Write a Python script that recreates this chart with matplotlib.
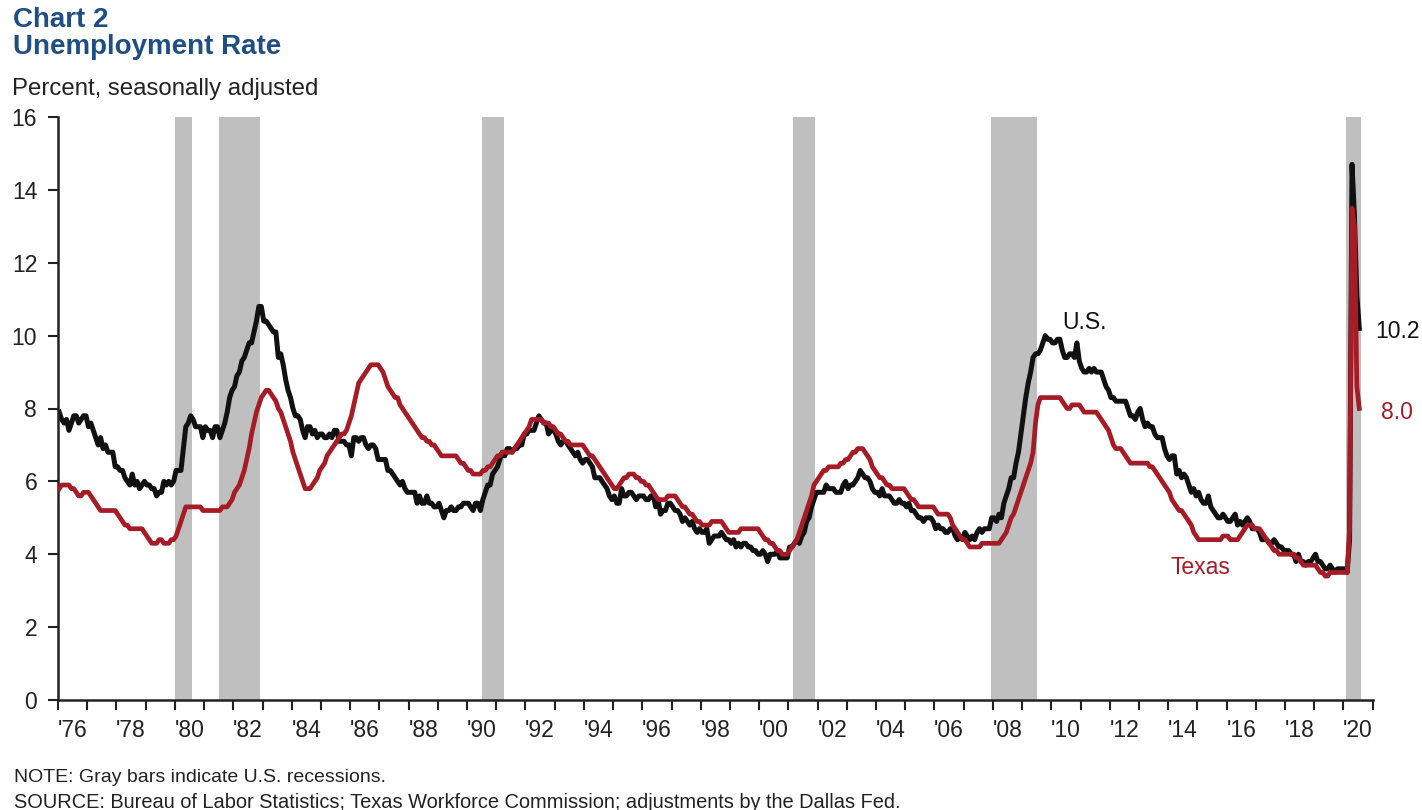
import numpy as np
import matplotlib
matplotlib.use('Agg')
from matplotlib import pyplot as plt

plt.rcParams['font.family'] = ['Liberation Sans', 'DejaVu Sans']

# monthly unemployment rate, one row per year (Jan..Dec), 2020 through July
years = list(range(1976, 2021))

us = [
    [7.9, 7.7, 7.6, 7.7, 7.4, 7.6, 7.8, 7.8, 7.6, 7.7, 7.8, 7.8],
    [7.5, 7.6, 7.4, 7.2, 7.0, 7.2, 6.9, 7.0, 6.8, 6.8, 6.8, 6.4],
    [6.4, 6.3, 6.3, 6.1, 6.0, 5.9, 6.2, 5.9, 6.0, 5.8, 5.9, 6.0],
    [5.9, 5.9, 5.8, 5.8, 5.6, 5.7, 5.7, 6.0, 5.9, 6.0, 5.9, 6.0],
    [6.3, 6.3, 6.3, 6.9, 7.5, 7.6, 7.8, 7.7, 7.5, 7.5, 7.5, 7.2],
    [7.5, 7.4, 7.4, 7.2, 7.5, 7.5, 7.2, 7.4, 7.6, 7.9, 8.3, 8.5],
    [8.6, 8.9, 9.0, 9.3, 9.4, 9.6, 9.8, 9.8, 10.1, 10.4, 10.8, 10.8],
    [10.4, 10.4, 10.3, 10.2, 10.1, 10.1, 9.4, 9.5, 9.2, 8.8, 8.5, 8.3],
    [8.0, 7.8, 7.8, 7.7, 7.4, 7.2, 7.5, 7.5, 7.3, 7.4, 7.2, 7.3],
    [7.3, 7.2, 7.2, 7.3, 7.2, 7.4, 7.4, 7.1, 7.1, 7.1, 7.0, 7.0],
    [6.7, 7.2, 7.2, 7.1, 7.2, 7.2, 7.0, 6.9, 7.0, 7.0, 6.9, 6.6],
    [6.6, 6.6, 6.6, 6.3, 6.3, 6.2, 6.1, 6.0, 5.9, 6.0, 5.8, 5.7],
    [5.7, 5.7, 5.7, 5.4, 5.6, 5.4, 5.4, 5.6, 5.4, 5.4, 5.3, 5.3],
    [5.4, 5.2, 5.0, 5.2, 5.2, 5.3, 5.2, 5.2, 5.3, 5.3, 5.4, 5.4],
    [5.4, 5.3, 5.2, 5.4, 5.4, 5.2, 5.5, 5.7, 5.9, 5.9, 6.2, 6.3],
    [6.4, 6.6, 6.8, 6.7, 6.9, 6.9, 6.8, 6.9, 6.9, 7.0, 7.0, 7.3],
    [7.3, 7.4, 7.4, 7.4, 7.6, 7.8, 7.7, 7.6, 7.6, 7.3, 7.4, 7.4],
    [7.3, 7.1, 7.0, 7.1, 7.1, 7.0, 6.9, 6.8, 6.7, 6.8, 6.6, 6.5],
    [6.6, 6.6, 6.5, 6.4, 6.1, 6.1, 6.1, 6.0, 5.9, 5.8, 5.6, 5.5],
    [5.6, 5.4, 5.4, 5.8, 5.6, 5.6, 5.7, 5.7, 5.6, 5.5, 5.6, 5.6],
    [5.6, 5.5, 5.5, 5.6, 5.6, 5.3, 5.5, 5.1, 5.2, 5.2, 5.4, 5.4],
    [5.3, 5.2, 5.2, 5.1, 4.9, 5.0, 4.9, 4.8, 4.9, 4.7, 4.6, 4.7],
    [4.6, 4.6, 4.7, 4.3, 4.4, 4.5, 4.5, 4.5, 4.6, 4.5, 4.4, 4.4],
    [4.3, 4.4, 4.2, 4.3, 4.2, 4.3, 4.3, 4.2, 4.2, 4.1, 4.1, 4.0],
    [4.0, 4.1, 4.0, 3.8, 4.0, 4.0, 4.0, 4.1, 3.9, 3.9, 3.9, 3.9],
    [4.2, 4.2, 4.3, 4.4, 4.3, 4.5, 4.6, 4.9, 5.0, 5.3, 5.5, 5.7],
    [5.7, 5.7, 5.7, 5.9, 5.8, 5.8, 5.8, 5.7, 5.7, 5.7, 5.9, 6.0],
    [5.8, 5.9, 5.9, 6.0, 6.1, 6.3, 6.2, 6.1, 6.1, 6.0, 5.8, 5.7],
    [5.7, 5.6, 5.8, 5.6, 5.6, 5.6, 5.5, 5.4, 5.4, 5.5, 5.4, 5.4],
    [5.3, 5.4, 5.2, 5.2, 5.1, 5.0, 5.0, 4.9, 5.0, 5.0, 5.0, 4.9],
    [4.7, 4.8, 4.7, 4.7, 4.6, 4.6, 4.7, 4.7, 4.5, 4.4, 4.5, 4.4],
    [4.6, 4.5, 4.4, 4.5, 4.4, 4.6, 4.7, 4.6, 4.7, 4.7, 4.7, 5.0],
    [5.0, 4.9, 5.1, 5.0, 5.4, 5.6, 5.8, 6.1, 6.1, 6.5, 6.8, 7.3],
    [7.8, 8.3, 8.7, 9.0, 9.4, 9.5, 9.5, 9.6, 9.8, 10.0, 9.9, 9.9],
    [9.8, 9.8, 9.9, 9.9, 9.6, 9.4, 9.4, 9.5, 9.5, 9.4, 9.8, 9.3],
    [9.1, 9.0, 9.0, 9.1, 9.0, 9.1, 9.0, 9.0, 9.0, 8.8, 8.6, 8.5],
    [8.3, 8.3, 8.2, 8.2, 8.2, 8.2, 8.2, 8.0, 7.8, 7.8, 7.7, 7.9],
    [8.0, 7.7, 7.5, 7.6, 7.5, 7.5, 7.3, 7.2, 7.2, 7.2, 6.9, 6.7],
    [6.6, 6.7, 6.7, 6.2, 6.3, 6.1, 6.2, 6.1, 5.9, 5.7, 5.8, 5.6],
    [5.7, 5.5, 5.4, 5.4, 5.6, 5.3, 5.2, 5.1, 5.0, 5.0, 5.1, 5.0],
    [4.9, 4.9, 5.0, 5.1, 4.8, 4.9, 4.8, 4.9, 5.0, 4.9, 4.7, 4.7],
    [4.7, 4.6, 4.4, 4.4, 4.4, 4.3, 4.3, 4.4, 4.3, 4.2, 4.2, 4.1],
    [4.1, 4.1, 4.0, 4.0, 3.8, 4.0, 3.8, 3.8, 3.7, 3.8, 3.8, 3.9],
    [4.0, 3.8, 3.8, 3.7, 3.6, 3.6, 3.7, 3.6, 3.5, 3.6, 3.6, 3.6],
    [3.6, 3.5, 4.4, 14.7, 13.3, 11.1, 10.2],
]

texas = [
    [5.8, 5.9, 5.9, 5.9, 5.9, 5.8, 5.8, 5.7, 5.6, 5.6, 5.7, 5.7],
    [5.7, 5.6, 5.5, 5.4, 5.3, 5.2, 5.2, 5.2, 5.2, 5.2, 5.2, 5.2],
    [5.1, 5.0, 4.9, 4.8, 4.8, 4.7, 4.7, 4.7, 4.7, 4.7, 4.7, 4.6],
    [4.5, 4.4, 4.3, 4.3, 4.3, 4.4, 4.4, 4.3, 4.3, 4.3, 4.4, 4.4],
    [4.5, 4.7, 4.9, 5.1, 5.3, 5.3, 5.3, 5.3, 5.3, 5.3, 5.3, 5.2],
    [5.2, 5.2, 5.2, 5.2, 5.2, 5.2, 5.2, 5.3, 5.3, 5.3, 5.4, 5.5],
    [5.7, 5.8, 5.9, 6.1, 6.3, 6.6, 6.9, 7.3, 7.6, 7.9, 8.1, 8.3],
    [8.4, 8.5, 8.5, 8.4, 8.3, 8.2, 8.0, 7.9, 7.7, 7.5, 7.3, 7.1],
    [6.8, 6.6, 6.4, 6.2, 6.0, 5.8, 5.8, 5.8, 5.9, 6.0, 6.1, 6.3],
    [6.4, 6.5, 6.7, 6.8, 6.9, 7.0, 7.1, 7.2, 7.3, 7.3, 7.4, 7.6],
    [7.8, 8.1, 8.4, 8.7, 8.8, 8.9, 9.0, 9.1, 9.2, 9.2, 9.2, 9.2],
    [9.1, 9.0, 8.8, 8.6, 8.5, 8.4, 8.3, 8.3, 8.1, 8.0, 7.9, 7.8],
    [7.7, 7.6, 7.5, 7.4, 7.3, 7.2, 7.2, 7.1, 7.1, 7.0, 7.0, 6.9],
    [6.8, 6.7, 6.7, 6.7, 6.7, 6.7, 6.7, 6.7, 6.6, 6.5, 6.5, 6.4],
    [6.3, 6.3, 6.2, 6.2, 6.2, 6.2, 6.3, 6.3, 6.4, 6.4, 6.5, 6.6],
    [6.7, 6.7, 6.8, 6.8, 6.8, 6.8, 6.8, 6.9, 7.0, 7.1, 7.2, 7.3],
    [7.4, 7.5, 7.7, 7.7, 7.7, 7.7, 7.7, 7.6, 7.6, 7.6, 7.5, 7.5],
    [7.4, 7.3, 7.3, 7.2, 7.1, 7.1, 7.0, 7.0, 7.0, 7.0, 7.0, 7.0],
    [6.9, 6.8, 6.7, 6.7, 6.6, 6.5, 6.4, 6.3, 6.2, 6.1, 6.0, 5.9],
    [5.8, 5.8, 5.9, 6.0, 6.1, 6.1, 6.2, 6.2, 6.2, 6.1, 6.1, 6.0],
    [6.0, 5.9, 5.9, 5.8, 5.7, 5.6, 5.5, 5.5, 5.5, 5.5, 5.6, 5.6],
    [5.6, 5.6, 5.5, 5.4, 5.3, 5.3, 5.2, 5.1, 5.1, 5.0, 4.9, 4.9],
    [4.8, 4.8, 4.8, 4.8, 4.9, 4.9, 4.9, 4.9, 4.9, 4.8, 4.7, 4.6],
    [4.6, 4.6, 4.6, 4.6, 4.7, 4.7, 4.7, 4.7, 4.7, 4.7, 4.7, 4.7],
    [4.6, 4.5, 4.4, 4.4, 4.3, 4.3, 4.2, 4.1, 4.1, 4.0, 4.0, 4.0],
    [4.1, 4.2, 4.3, 4.4, 4.6, 4.8, 5.0, 5.2, 5.4, 5.6, 5.9, 6.0],
    [6.1, 6.2, 6.3, 6.3, 6.4, 6.4, 6.4, 6.4, 6.4, 6.5, 6.5, 6.6],
    [6.6, 6.7, 6.8, 6.8, 6.9, 6.9, 6.9, 6.8, 6.7, 6.6, 6.4, 6.3],
    [6.2, 6.1, 6.1, 6.0, 5.9, 5.9, 5.8, 5.8, 5.8, 5.8, 5.8, 5.8],
    [5.7, 5.6, 5.5, 5.5, 5.4, 5.3, 5.3, 5.3, 5.3, 5.3, 5.3, 5.3],
    [5.2, 5.1, 5.1, 5.1, 5.1, 5.1, 5.0, 4.8, 4.7, 4.6, 4.5, 4.4],
    [4.4, 4.3, 4.2, 4.2, 4.2, 4.2, 4.2, 4.3, 4.3, 4.3, 4.3, 4.3],
    [4.3, 4.3, 4.3, 4.4, 4.5, 4.6, 4.8, 5.0, 5.1, 5.3, 5.5, 5.7],
    [5.9, 6.1, 6.3, 6.5, 6.8, 7.6, 8.1, 8.3, 8.3, 8.3, 8.3, 8.3],
    [8.3, 8.3, 8.3, 8.3, 8.2, 8.1, 8.0, 8.0, 8.1, 8.1, 8.1, 8.1],
    [8.0, 7.9, 7.9, 7.9, 7.9, 7.9, 7.9, 7.8, 7.7, 7.6, 7.5, 7.4],
    [7.2, 7.0, 6.9, 6.9, 6.9, 6.8, 6.7, 6.6, 6.5, 6.5, 6.5, 6.5],
    [6.5, 6.5, 6.5, 6.5, 6.4, 6.4, 6.3, 6.2, 6.1, 6.0, 5.9, 5.8],
    [5.7, 5.5, 5.4, 5.3, 5.2, 5.2, 5.1, 5.0, 4.9, 4.8, 4.6, 4.5],
    [4.4, 4.4, 4.4, 4.4, 4.4, 4.4, 4.4, 4.4, 4.4, 4.4, 4.5, 4.5],
    [4.5, 4.4, 4.4, 4.4, 4.4, 4.5, 4.6, 4.7, 4.8, 4.8, 4.8, 4.7],
    [4.7, 4.7, 4.6, 4.5, 4.4, 4.3, 4.2, 4.1, 4.1, 4.0, 4.0, 4.0],
    [4.0, 4.0, 4.0, 4.0, 3.9, 3.9, 3.8, 3.7, 3.7, 3.7, 3.7, 3.7],
    [3.7, 3.6, 3.5, 3.5, 3.4, 3.4, 3.5, 3.5, 3.5, 3.5, 3.5, 3.5],
    [3.5, 3.5, 4.7, 13.5, 13.0, 8.6, 8.0],
]

# NBER recessions as (start, end) in decimal years
recessions = [(1980.0, 1980.58), (1981.5, 1982.92), (1990.5, 1991.25),
              (2001.17, 2001.92), (2007.92, 2009.5), (2020.08, 2020.6)]

tick_years = list(range(1976, 2021, 2))
tick_labels = ["'%02d" % (y % 100) for y in tick_years]

blue = '#1F4E84'
red = '#A61C26'
black = '#111111'


def to_xy(rows):
    x, v = [], []
    for yr, row in zip(years, rows):
        for m, val in enumerate(row):
            x.append(yr + m / 12 + 1 / 24)
            v.append(val)
    return np.array(x), np.array(v)


x_us, y_us = to_xy(us)
x_tx, y_tx = to_xy(texas)

fig = plt.figure(figsize=(14.22, 8.10), dpi=100)
ax = fig.add_axes([58 / 1422, 1 - 700 / 810, (1372.7 - 58) / 1422, (700 - 117) / 810])

for a, b in recessions:
    ax.axvspan(a, b, color='#BFBFBF', lw=0, zorder=1)

ax.plot(x_tx, y_tx, color=red, lw=3.4, zorder=3, solid_joinstyle='round')
ax.plot(x_us, y_us, color=black, lw=3.6, zorder=2, solid_joinstyle='round')

ax.set_xlim(1976, 2021)
ax.set_ylim(0, 16)
ax.set_yticks(range(0, 17, 2))
ax.set_xticks(range(1976, 2022), minor=False)
ax.set_xticklabels([])
ax.set_xticks([y + 0.5 for y in tick_years], minor=True)
ax.set_xticklabels(tick_labels, minor=True)
ax.tick_params(axis='x', which='major', length=7, width=1.5, direction='out', color='#222222')
ax.tick_params(axis='x', which='minor', length=0, labelsize=16.5, pad=14, labelcolor='#222222')
ax.tick_params(axis='y', length=7, width=1.5, direction='out', labelsize=16.5, pad=8,
               color='#222222', labelcolor='#222222')

for s in ['top', 'right']:
    ax.spines[s].set_visible(False)
for s in ['left', 'bottom']:
    ax.spines[s].set_linewidth(1.8)
    ax.spines[s].set_color('#222222')

ax.text(2011.15, 10.35, 'U.S.', fontsize=16.5, color=black, ha='center', va='center')
ax.text(2015.1, 3.65, 'Texas', fontsize=16.5, color=red, ha='center', va='center')
ax.text(2021.08, 10.1, '%.1f' % y_us[-1], fontsize=16.5, color=black,
        ha='left', va='center', clip_on=False)
ax.text(2021.3, 7.9, '%.1f' % y_tx[-1], fontsize=16.5, color=red,
        ha='left', va='center', clip_on=False)

fig.text(13 / 1422, 1 - 7 / 810, 'Chart 2', fontsize=20, fontweight='bold', color=blue,
         ha='left', va='top')
fig.text(13 / 1422, 1 - 34 / 810, 'Unemployment Rate', fontsize=20, fontweight='bold',
         color=blue, ha='left', va='top')
fig.text(12 / 1422, 1 - 78 / 810, 'Percent, seasonally adjusted', fontsize=17.3,
         color='#222222', ha='left', va='top')
fig.text(14 / 1422, 1 - 777 / 810, 'NOTE: Gray bars indicate U.S. recessions.', fontsize=14,
         color='#222222', ha='left', va='center')
fig.text(14 / 1422, 1 - 802 / 810,
         'SOURCE: Bureau of Labor Statistics; Texas Workforce Commission; adjustments by the Dallas Fed.',
         fontsize=14.4, color='#222222', ha='left', va='center')

fig.savefig('out.png', dpi=100)
